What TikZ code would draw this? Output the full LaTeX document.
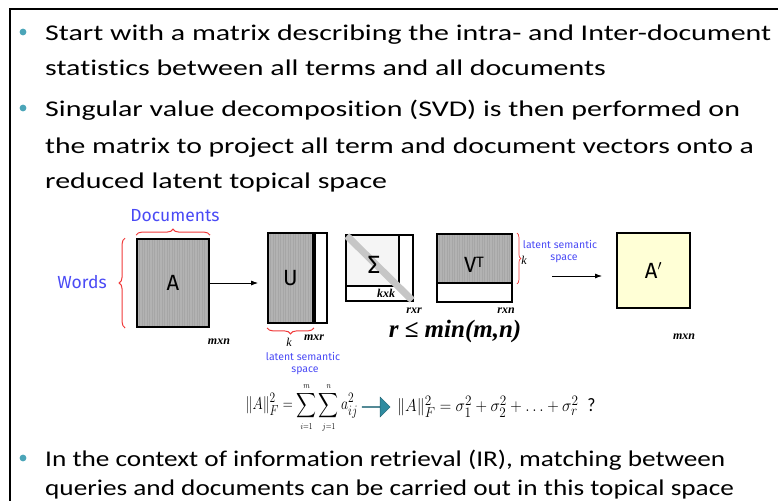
\documentclass[tikz,border=0pt]{standalone}
\usepackage{amsmath}
\usepackage{graphicx}
\usepackage{fontspec}
\setmainfont[Ligatures=CommonOff]{Carlito}
\newfontfamily\labelfont{Fira Sans}
\newfontfamily\dimfont{Liberation Serif}
\usepackage{tikz}
\usetikzlibrary{positioning,arrows.meta,calc,shapes.arrows,decorations.pathreplacing}
\definecolor{dot}{HTML}{4BA5B8}
\definecolor{lblue}{HTML}{4A4AF5}
\definecolor{bred}{HTML}{F03A3A}
\definecolor{cell}{HTML}{B2B2B2}
\definecolor{pale}{HTML}{FFFFD6}
\definecolor{teal}{HTML}{2E8BA0}
\newcommand{\wide}[2][1.33]{\scalebox{#1}[1]{#2}}
\newcommand{\tinyidx}[1]{{\scriptscriptstyle #1}}
\tikzset{
  bul/.style={anchor=base west,inner sep=0pt,font=\fontsize{22.5}{22.5}\selectfont},
  mat/.style={draw,line width=1.8pt,inner sep=0pt,font=\labelfont\fontsize{22}{22}\selectfont},
  hatch/.style={fill=cell,path picture={\foreach \i in {0,2.5,...,90}{\draw[gray!70,line width=0.3pt] ([xshift=\i pt]path picture bounding box.south west) -- ([xshift=\i pt]path picture bounding box.north west);}}},
  dims/.style={font=\dimfont\bfseries\itshape\fontsize{12}{12}\selectfont,inner sep=0pt},
  blue lbl/.style={text=lblue,font=\labelfont\fontsize{17.5}{17.5}\selectfont,inner sep=0pt},
  small lbl/.style={text=lblue,font=\labelfont\fontsize{10.5}{10.5}\selectfont,inner sep=0pt},
  rbrace/.style={draw=bred,line width=1pt,decorate,decoration={brace,amplitude=6pt}},
  eqn/.style={font=\fontsize{19}{19}\selectfont,inner sep=0pt}
}
\begin{document}
\begin{tikzpicture}[x=1pt,y=-1pt]
  \useasboundingbox (0,0) rectangle (778,501);
  \draw[line width=2pt] (778,9) -- (10,9) -- (10,501);
  \foreach \yy in {32,108,458}{\fill[dot] (23,\yy) circle (3.4pt);}
  \node[bul] (l1) at (45,40) {\wide{Start with a matrix describing the intra- and Inter-document}};
  \node[bul] (l2) at (45,75) {\wide{statistics between all terms and all documents}};
  \node[bul] (l3) at (45,116) {\wide{Singular value decomposition (SVD) is then performed on}};
  \node[bul] (l4) at (45,153) {\wide[1.32]{the matrix to project all term and document vectors onto a}};
  \node[bul] (l5) at (45,188) {\wide{reduced latent topical space}};
  \node[bul] (l6) at (45,466) {\wide[1.21]{In the context of information retrieval (IR), matching between}};
  \node[bul] (l7) at (45,495) {\wide[1.21]{queries and documents can be carried out in this topical space}};

  \node[mat,hatch,minimum width=72,minimum height=88] (A) at (173,283) {A};
  \node[blue lbl] (docs) at (175,216) {Documents};
  \node[blue lbl] (words) at (82,282) {Words};
  \draw[rbrace] ([yshift=3pt]A.north west) -- ([yshift=3pt]A.north east);
  \draw[rbrace] ([xshift=-11pt]A.south west) -- ([xshift=-11pt]A.north west);
  \node[dims] (mxnA) at (219,342) {mxn};

  \node[mat,hatch,minimum width=45,minimum height=90] (U) at (290.5,278) {U};
  \node[mat,minimum width=12,minimum height=90,right=0pt of U] (Ur) {};
  \draw[-{Latex[length=7pt,width=5pt]},line width=0.8pt,shorten >=9pt] (A.east) -- (A.east -| U.west);
  \draw[rbrace] ([yshift=-4pt]U.south east) -- ([yshift=-4pt]U.south west);
  \node[font=\dimfont\itshape\fontsize{12}{12}\selectfont,inner sep=0pt] (kU) at (289,342) {k};
  \node[dims] (mxr) at (314,338) {mxr};
  \node[small lbl] (ls1) at (303,356) {latent semantic};
  \node[small lbl] (sp1) at (305,371) {space};

  \node[mat,minimum width=67,minimum height=66] (S) at (379.5,268) {};
  \node[mat,fill=gray!8,minimum width=53,minimum height=51,anchor=north west] (Sk) at (S.north west) {};
  \draw[gray!45,line width=7pt,shorten <=2.5pt,shorten >=2.5pt] (S.north west) -- (S.south east);
  \node[font=\labelfont\fontsize{25}{25}\selectfont,inner sep=0pt] (sig) at (374,265) {Σ};
  \node[dims] (kxk) at (386,293) {kxk};
  \node[dims] (rxr) at (414,311) {rxr};

  \node[mat,fill=white,minimum width=75,minimum height=68] (V) at (474.5,268) {};
  \node[mat,hatch,minimum width=75,minimum height=49,anchor=north] (Vk) at (V.north) {};
  \node[font=\labelfont\fontsize{22}{22}\selectfont,inner sep=0pt] (vt) at (474,265) {V\raisebox{5pt}{\fontsize{15}{15}\selectfont T}};
  \draw[rbrace,line width=0.7pt,decoration={amplitude=4pt}] ([xshift=4pt]Vk.north east) -- ([xshift=4pt]Vk.south east);
  \node[font=\dimfont\itshape\fontsize{12}{12}\selectfont,inner sep=0pt] (kV) at (524,260) {k};
  \node[dims] (rxn) at (506,311) {rxn};
  \node[font=\dimfont\bfseries\itshape\fontsize{25}{25}\selectfont,inner sep=0pt] (rmin) at (455,331) {r ≤ min(m,n)};

  \node[small lbl] (ls2) at (560,244) {latent semantic};
  \node[small lbl] (sp2) at (564,259) {space};
  \coordinate (from) at (552,276);
  \coordinate (to) at (602,276);
  \draw[-{Latex[length=7pt,width=5pt]},line width=0.8pt] (from) -- (to);
  \node[mat,fill=pale,minimum width=73,minimum height=75] (Ap) at (653.5,270.5) {A$'$};
  \node[dims] (mxnAp) at (684,337) {mxn};

  \node[eqn,anchor=east] (lhs) at (358,408) {\wide[0.8]{$\displaystyle \|A\|_F^2 = \sum_{\tinyidx{i=1}}^{\tinyidx{m}}\sum_{\tinyidx{j=1}}^{\tinyidx{n}} a_{ij}^2$}};
  \node[single arrow,draw=teal!70!black,fill=teal,minimum height=28pt,minimum width=20pt,single arrow head extend=5pt,inner sep=0pt] (imp) at (376,407) {};
  \node[eqn,anchor=west] (rhs) at (397,407) {\wide[0.92]{$\|A\|_F^2 = \sigma_1^2+\sigma_2^2+\ldots+\sigma_r^2$\enspace ?}};
\end{tikzpicture}
\end{document}
